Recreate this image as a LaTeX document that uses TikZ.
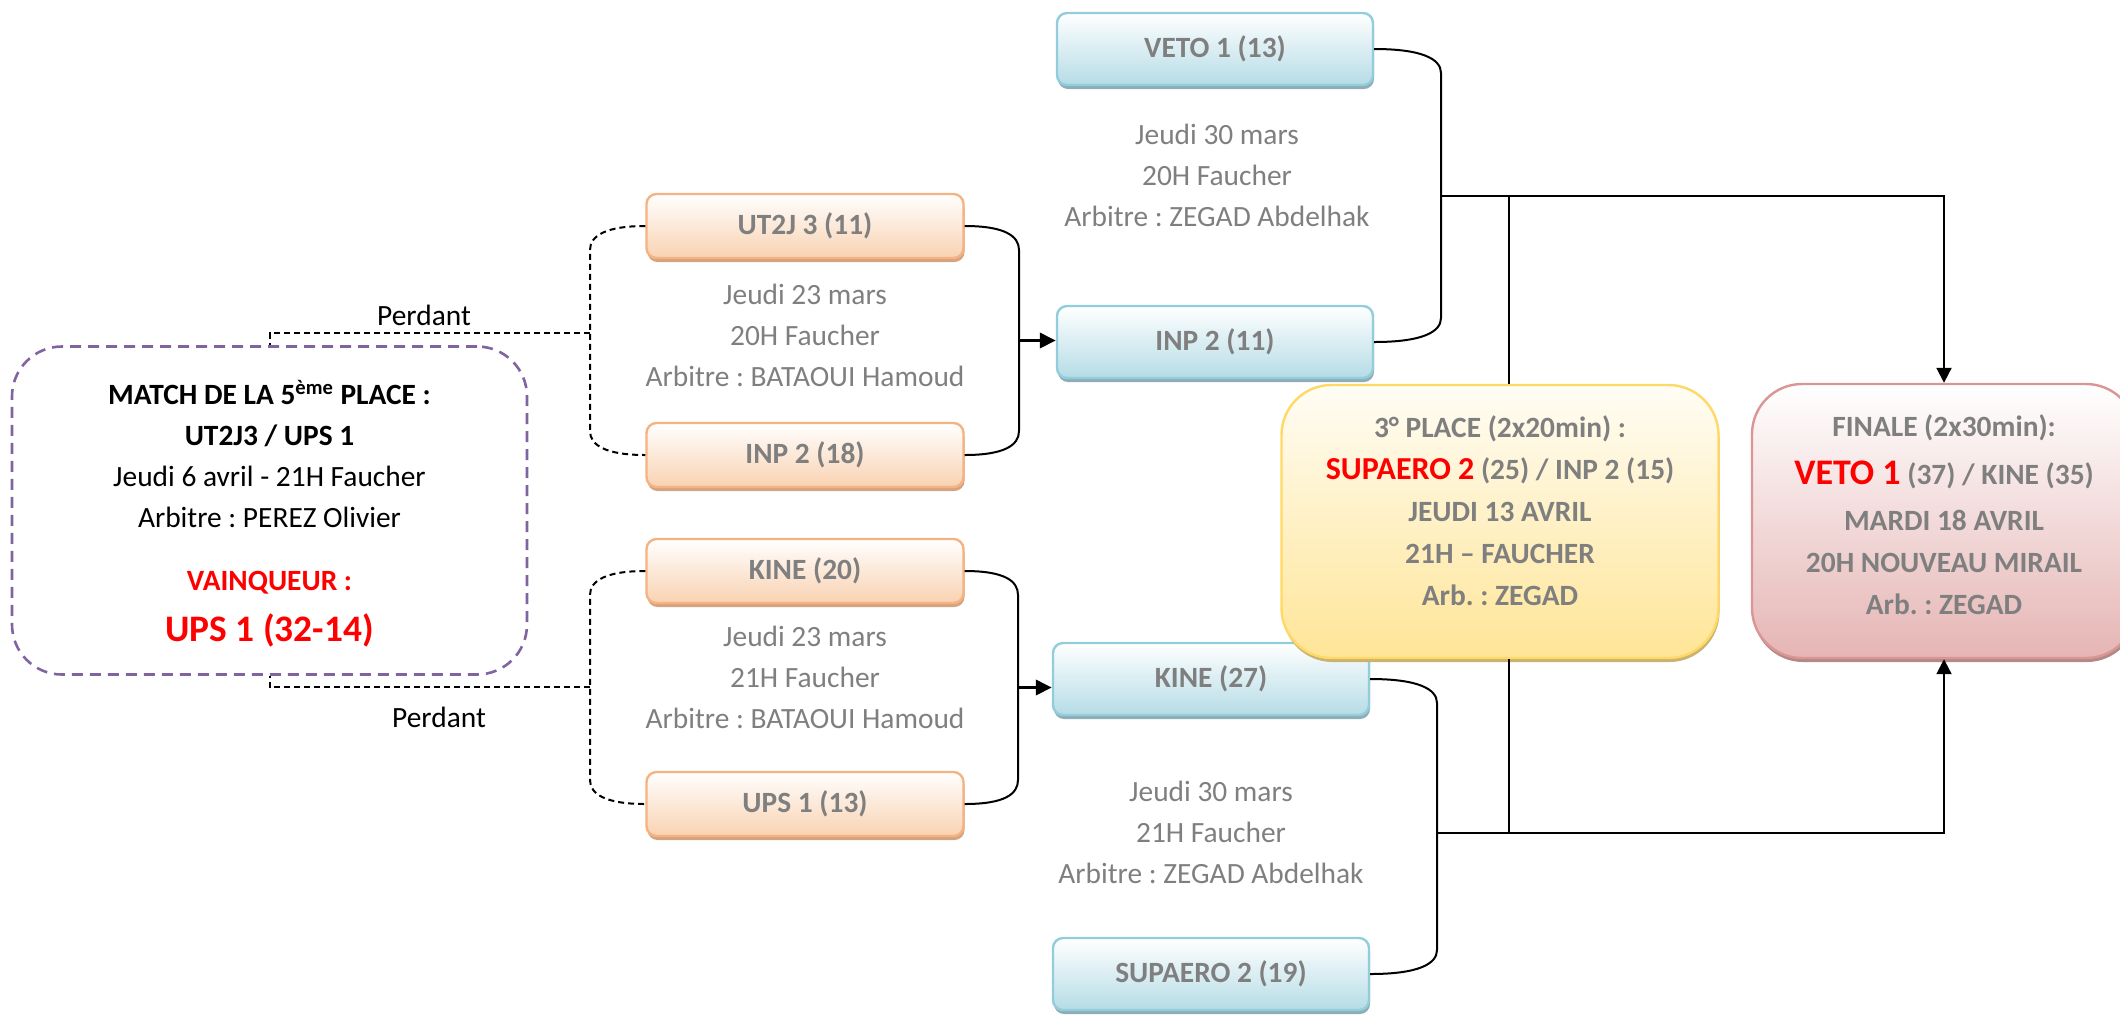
\documentclass[tikz,border=0pt]{standalone}
\usepackage{fontspec}
\setmainfont{Carlito}
\usetikzlibrary{arrows.meta,calc,shadows}
\frenchspacing

\definecolor{txtgray}{RGB}{127,127,127}
\definecolor{orborder}{HTML}{F5B283}
\definecolor{orbottom}{HTML}{F9D2B1}
\definecolor{orshadow}{HTML}{D4A47F}
\definecolor{blborder}{HTML}{92CDDC}
\definecolor{blbottom}{HTML}{B5DCE6}
\definecolor{blshadow}{HTML}{8FADB7}
\definecolor{yeborder}{HTML}{FFD966}
\definecolor{yetop}{HTML}{FFFDF5}
\definecolor{yebottom}{HTML}{FFE597}
\definecolor{yeshadow}{HTML}{C9B272}
\definecolor{piborder}{HTML}{D99694}
\definecolor{pibottom}{HTML}{E5B5B4}
\definecolor{pishadow}{HTML}{B38988}
\definecolor{purp}{HTML}{8064A2}
\definecolor{winred}{RGB}{255,0,0}

\newcommand{\fsz}{\fontsize{14.7}{20.5}\selectfont\frenchspacing}
\newcommand{\brkt}[5]{\draw[#1] (#2) .. controls +(#5,0) and +(0,-14) .. ($(#2 -| #4)+(0,24)$) -- ($(#3 -| #4)+(0,-24)$) .. controls +(0,14) and +(#5,0) .. (#3);}

\tikzset{
  teambox/.style={rounded corners=5pt, line width=1.2pt, inner sep=0pt,
    font=\fsz\bfseries, text=txtgray},
  orbox/.style={teambox, minimum width=158.5pt, minimum height=32pt,
    draw=orborder, top color=white, bottom color=orbottom,
    general shadow={fill=orshadow, shadow xshift=0.5pt, shadow yshift=-2pt}},
  blbox/.style={teambox, minimum width=158pt, minimum height=36pt,
    draw=blborder, top color=white, bottom color=blbottom,
    general shadow={fill=blshadow, shadow xshift=0.5pt, shadow yshift=-2pt}},
  bigbox/.style={rounded corners=25pt, line width=1.2pt, inner sep=0pt},
  yebox/.style={bigbox, draw=yeborder, top color=yetop, bottom color=yebottom,
    general shadow={fill=yeshadow, shadow xshift=0.5pt, shadow yshift=-2pt}},
  pibox/.style={bigbox, draw=piborder, top color=white, bottom color=pibottom,
    general shadow={fill=pishadow, shadow xshift=0.5pt, shadow yshift=-2pt}},
  purpbox/.style={bigbox, draw=purp, line width=1.3pt, dash pattern=on 5.5pt off 3.5pt},
  graytext/.style={align=center, font=\fsz, text=txtgray, inner sep=0pt},
  boldgray/.style={align=center, font=\fontsize{14.7}{21}\selectfont\bfseries\frenchspacing, text=txtgray, inner sep=0pt},
  blacktext/.style={align=center, font=\fsz, text=black, inner sep=0pt},
  conn/.style={line width=1pt, black},
  dashline/.style={line width=1pt, black, dash pattern=on 3pt off 2pt},
  thickarrow/.style={line width=1.8pt, -{Triangle[length=8pt,width=7.5pt]}},
  thinarrow/.style={line width=1pt, -{Triangle[length=7.5pt,width=7.5pt]}},
}

\begin{document}
\begin{tikzpicture}[x=0.5pt,y=-0.5pt]
\useasboundingbox (0,0) rectangle (2120,1014);

% first round (orange)
\node[orbox] (ut2j)   at (805,226) {UT2J 3 (11)};
\node[orbox] (inp18)  at (805,455) {INP 2 (18)};
\node[orbox] (kine20) at (805,571) {KINE (20)};
\node[orbox] (ups13)  at (805,804) {UPS 1 (13)};

% second round (blue)
\node[blbox] (veto)   at (1215,49)  {VETO 1 (13)};
\node[blbox] (inp11)  at (1215,342) {INP 2 (11)};
\node[blbox] (kine27) at (1211,679) {KINE (27)};
\node[blbox] (sup)    at (1211,974) {SUPAERO 2 (19)};

% big boxes
\node[yebox, minimum width=218.5pt, minimum height=136.5pt] (third) at (1500,521.5) {};
\node[pibox, minimum width=192pt, minimum height=137pt] (finale) at (1944,521) {};
\node[purpbox, minimum width=257.5pt, minimum height=164pt] (purple) at (269.5,510.5) {};

% gray match texts
\node[graytext] (g1) at (805,335) {Jeudi 23 mars\\20H Faucher\\Arbitre : BATAOUI Hamoud};
\node[graytext] (g2) at (805,677) {Jeudi 23 mars\\21H Faucher\\Arbitre : BATAOUI Hamoud};
\node[graytext] (g3) at (1217,175) {Jeudi 30 mars\\20H Faucher\\Arbitre : ZEGAD Abdelhak};
\node[graytext] (g4) at (1211,832) {Jeudi 30 mars\\21H Faucher\\Arbitre : ZEGAD Abdelhak};

% third place text
\node[boldgray] (thirdtxt) at (1500,511) {3° PLACE (2x20min) :\\
  {\color{winred}\fontsize{16}{21}\selectfont SUPAERO 2} (25) / INP 2 (15)\\JEUDI 13 AVRIL\\21H – FAUCHER\\Arb. : ZEGAD};

% final text
\node[boldgray] (finaletxt) at (1944,515) {FINALE (2x30min):\\[3pt]
  {\color{winred}\fontsize{18}{21}\selectfont VETO 1} (37) / KINE (35)\\[2pt]MARDI 18 AVRIL\\20H NOUVEAU MIRAIL\\Arb. : ZEGAD};

% 5th place text
\node[blacktext] (p1) at (269.5,454) {\textbf{MATCH DE LA 5\textsuperscript{ème} PLACE :}\\\textbf{UT2J3 / UPS 1}\\Jeudi 6 avril - 21H Faucher\\Arbitre : PEREZ Olivier};
\node[blacktext, text=winred, font=\fsz\bfseries] (p2) at (269.5,583) {VAINQUEUR :};
\node[blacktext, text=winred, font=\fontsize{18.7}{21}\selectfont\bfseries] (p3) at (269.5,630) {UPS 1 (32-14)};

\node[blacktext] (perd1) at (424,315) {Perdant};
\node[blacktext] (perd2) at (439,717) {Perdant};

% bracket coordinates
\coordinate (b1) at (1019,0);
\coordinate (b2) at (1018,0);
\coordinate (b3) at (1441,0);
\coordinate (b4) at (1437,0);
\coordinate (lx) at (590,0);
\coordinate (v3) at (1509,0);

% first round brackets
\brkt{conn}{ut2j.east}{inp18.east}{b1}{40}
\brkt{conn}{kine20.east}{ups13.east}{b2}{40}
\coordinate (m1) at ($(ut2j.east -| b1)!0.5!(inp18.east -| b1)$);
\coordinate (m2) at ($(kine20.east -| b2)!0.5!(ups13.east -| b2)$);
\draw[thickarrow] (m1) -- (m1 -| inp11.west);
\draw[thickarrow] (m2) -- (m2 -| kine27.west);

% losers (dashed)
\brkt{dashline}{ut2j.west}{inp18.west}{lx}{-40}
\brkt{dashline}{kine20.west}{ups13.west}{lx}{-40}
\coordinate (lx1) at (590,333);
\coordinate (lx2) at (590,687);
\draw[dashline] (lx1) -| (purple.north);
\draw[dashline] (lx2) -| (purple.south);

% second round brackets
\brkt{conn}{veto.east}{inp11.east}{b3}{48}
\brkt{conn}{kine27.east}{sup.east}{b4}{48}
\coordinate (m3) at ($(veto.east -| b3)!0.5!(inp11.east -| b3)$);
\coordinate (m4) at (1437,833);
\draw[thinarrow] (m3) -| (finale.north);
\draw[conn] (m3 -| v3) -- (v3 |- third.north);
\draw[thinarrow] (m4) -| (finale.south);
\draw[conn] (v3 |- third.south) -- (v3 |- m4);
\end{tikzpicture}
\end{document}
